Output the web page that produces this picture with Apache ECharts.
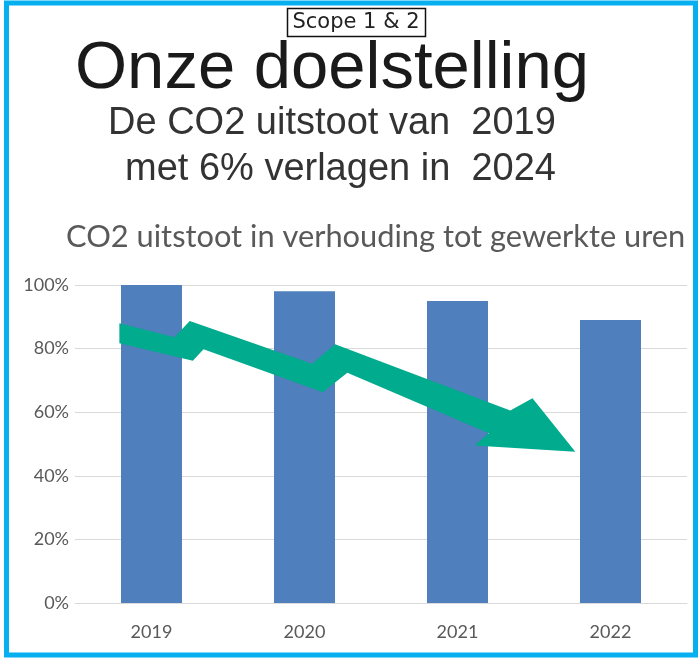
<!DOCTYPE html>
<html>
<head>
<meta charset="utf-8">
<script src="https://cdn.jsdelivr.net/npm/echarts@6/dist/echarts.min.js"></script>
<style>
  html, body { margin: 0; padding: 0; background: #fff; }
  #main { width: 698px; height: 660px; }
</style>
</head>
<body>
<div id="main"></div>
<script>
// jaren en CO2 uitstoot (t.o.v. 2019)
var categories = ['2019', '2020', '2021', '2022'];
var ratioValues = [100, 98, 95, 89];
var yTicks = [0, 20, 40, 60, 80, 100];

// pijl (x = positie op de categorie-as, y = procent)
var arrowX = [-0.21, 0.15, 0.25, 1.05, 1.20, 2.345, 2.49, 2.77, 2.11, 2.205, 1.28, 1.12, 0.34, 0.27, -0.21];
var arrowY = [88.0, 83.6, 88.7, 75.2, 81.4, 60.5, 64.4, 47.6, 49.5, 53.4, 72.4, 66.3, 79.8, 76.2, 81.7];

var chartDom = document.getElementById('main');
var myChart = echarts.init(chartDom);
var option;

option = {
    animation: false,
    title: [
        {
            text: 'Onze doelstelling',
            left: 75, top: 36, padding: 0,
            textStyle: { fontFamily: 'Liberation Sans', fontSize: 67, fontWeight: 'normal', color: '#1a1a1a' }
        },
        {
            text: 'De CO2 uitstoot van  2019',
            left: 108, top: 105, padding: 0,
            textStyle: { fontFamily: 'Liberation Sans', fontSize: 38, fontWeight: 'normal', color: '#333' }
        },
        {
            text: 'met 6% verlagen in  2024',
            left: 125, top: 151, padding: 0,
            textStyle: { fontFamily: 'Liberation Sans', fontSize: 38, fontWeight: 'normal', color: '#333' }
        },
        {
            text: 'CO2 uitstoot in verhouding tot gewerkte uren',
            left: 66, top: 222, padding: 0,
            textStyle: { fontFamily: 'Lato', fontSize: 30.8, fontWeight: 'normal', color: '#595959' }
        }
    ],
    graphic: [
        {
            type: 'rect',
            shape: { x: 6.5, y: 3, width: 689, height: 652 },
            style: { fill: 'none', stroke: '#05aff0', lineWidth: 5 },
            z: 100
        },
        {
            type: 'rect',
            shape: { x: 287.5, y: 8.5, width: 138, height: 28 },
            style: { fill: '#fff', stroke: '#111', lineWidth: 1.5 }
        },
        {
            type: 'text',
            x: 356, y: 23,
            style: {
                text: 'Scope 1 & 2',
                fontFamily: 'DejaVu Sans', fontSize: 21,
                fill: '#222', align: 'center', verticalAlign: 'middle'
            }
        }
    ],
    grid: { left: 75, right: 11, top: 285, bottom: 57 },
    xAxis: [
        {
            type: 'category',
            data: categories,
            axisLine: { lineStyle: { color: '#d9d9d9' } },
            axisTick: { show: false },
            axisLabel: { color: '#595959', fontFamily: 'Lato', fontSize: 18, margin: 20 }
        },
        {
            type: 'value',
            min: -0.5, max: 3.5,
            show: false
        }
    ],
    yAxis: {
        type: 'value',
        min: yTicks[0], max: yTicks[yTicks.length - 1], interval: 20,
        axisLine: { show: false },
        axisTick: { show: false },
        axisLabel: { formatter: '{value}%', color: '#595959', fontFamily: 'Lato', fontSize: 18, margin: 6 },
        splitLine: { lineStyle: { color: '#d9d9d9' } }
    },
    series: [
        {
            name: 'CO2 uitstoot',
            type: 'bar',
            data: ratioValues,
            barWidth: 61,
            itemStyle: { color: '#4f7fbc' }
        },
        {
            name: 'pijl',
            type: 'custom',
            xAxisIndex: 1,
            data: [[0, 0]],
            renderItem: function (params, api) {
                var pts = arrowX.map(function (x, i) {
                    return api.coord([x, arrowY[i]]);
                });
                return {
                    type: 'polygon',
                    shape: { points: pts },
                    style: { fill: '#00ab8e' }
                };
            },
            z: 10
        }
    ]
};

option && myChart.setOption(option);
</script>
</body>
</html>
